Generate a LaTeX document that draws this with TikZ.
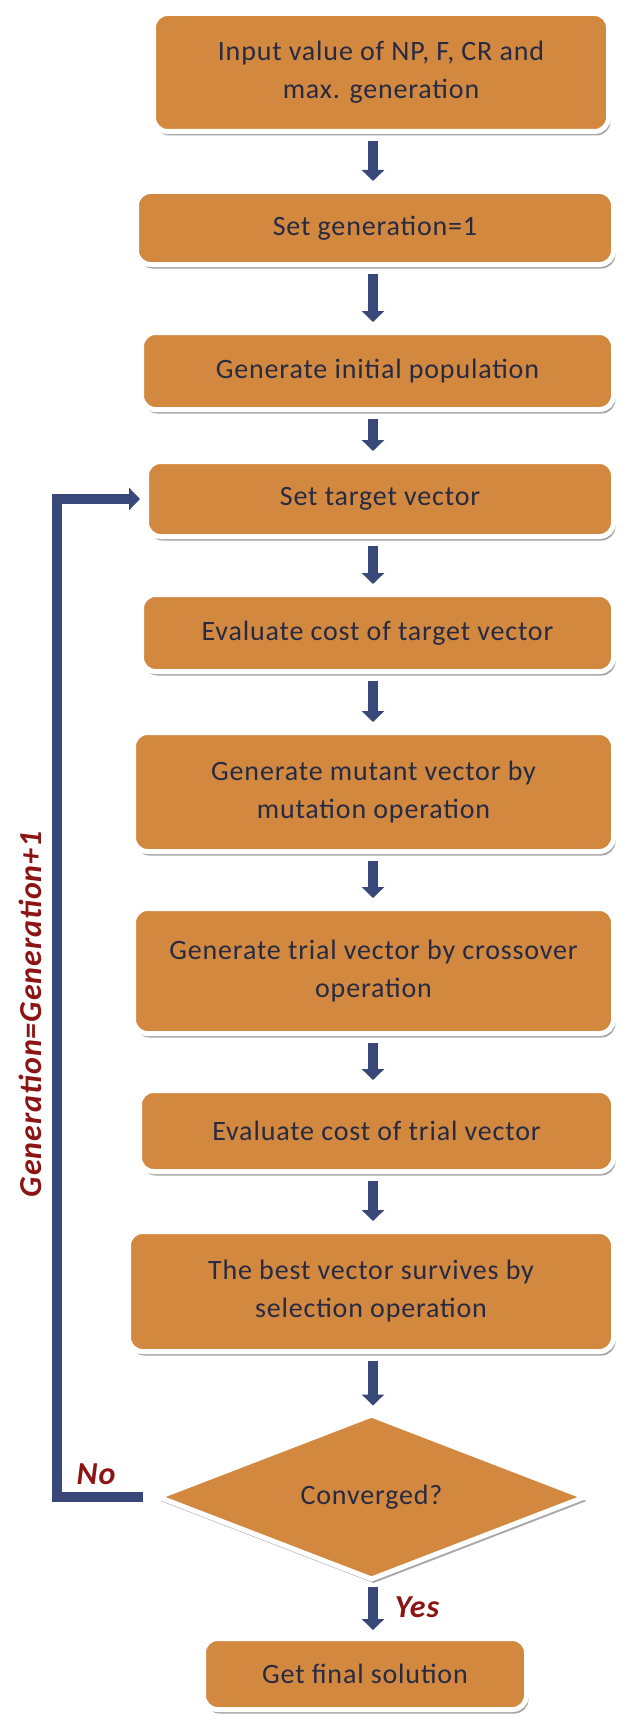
\documentclass[tikz,border=0pt]{standalone}
\usepackage{fontspec}
\setmainfont{Carlito}[LetterSpace=3]
\usetikzlibrary{arrows.meta,shapes.geometric,shadows,calc}
\definecolor{boxor}{RGB}{211,136,64}
\definecolor{navy}{RGB}{56,72,120}
\definecolor{txtc}{RGB}{38,42,66}
\definecolor{labc}{RGB}{140,20,20}
\begin{document}
\begin{tikzpicture}[x=1pt,y=-1pt,
  stepbox/.style={rectangle, rounded corners=14pt, fill=boxor, draw=white, line width=5pt,
    text=txtc, align=center, font=\fontsize{28}{38}\selectfont, inner sep=0pt,
    drop shadow={shadow xshift=2pt, shadow yshift=-4pt, opacity=0.35, fill=black}},
  decbox/.style={diamond, fill=boxor, draw=white, line width=5pt, text=txtc,
    font=\fontsize{28}{38}\selectfont, inner sep=0pt,
    drop shadow={shadow xshift=2pt, shadow yshift=-4pt, opacity=0.35, fill=black}},
  arr/.style={draw=navy, line width=10pt, -{Triangle[width=22pt,length=11pt]}},
  labtxt/.style={text=labc, font=\fontsize{32}{32}\selectfont\bfseries\itshape}]
\useasboundingbox (0,0) rectangle (630,1731);
\coordinate (ax) at (373,0);
\coordinate (fb) at (57,1000);

\node[stepbox, minimum width=455pt, minimum height=118pt] (b1) at (381,72.5) {Input value of NP, F, CR and\\max. generation};
\node[stepbox, minimum width=477pt, minimum height=73pt] (b2) at (375,228) {Set generation=1};
\node[stepbox, minimum width=472pt, minimum height=77pt] (b3) at (377.5,371) {Generate initial population};
\node[stepbox, minimum width=467pt, minimum height=75pt] (b4) at (380,499) {Set target vector};
\node[stepbox, minimum width=472pt, minimum height=77pt] (b5) at (377.5,633) {Evaluate cost of target vector};
\node[stepbox, minimum width=480pt, minimum height=119pt] (b6) at (373.5,792) {Generate mutant vector by\\mutation operation};
\node[stepbox, minimum width=480pt, minimum height=125pt] (b7) at (373.5,971) {Generate trial vector by crossover\\operation};
\node[stepbox, minimum width=474pt, minimum height=81pt] (b8) at (376.5,1131) {Evaluate cost of trial vector};
\node[stepbox, minimum width=485pt, minimum height=120pt] (b9) at (371,1291.5) {The best vector survives by\\selection operation};
\node[decbox, minimum width=428pt, minimum height=150pt] (dm) at (371.5,1497) {Converged?};
\node[stepbox, minimum width=323pt, minimum height=71pt] (b10) at (365,1674) {Get final solution};

\draw[arr, shorten <=7pt, shorten >=8pt] (b1.south -| ax) -- (b2.north -| ax);
\draw[arr, shorten <=7pt, shorten >=8pt] (b2.south -| ax) -- (b3.north -| ax);
\draw[arr, shorten <=7pt, shorten >=8pt] (b3.south -| ax) -- (b4.north -| ax);
\draw[arr, shorten <=7pt, shorten >=8pt] (b4.south -| ax) -- (b5.north -| ax);
\draw[arr, shorten <=7pt, shorten >=8pt] (b5.south -| ax) -- (b6.north -| ax);
\draw[arr, shorten <=7pt, shorten >=8pt] (b6.south -| ax) -- (b7.north -| ax);
\draw[arr, shorten <=7pt, shorten >=8pt] (b7.south -| ax) -- (b8.north -| ax);
\draw[arr, shorten <=7pt, shorten >=8pt] (b8.south -| ax) -- (b9.north -| ax);
\draw[arr, shorten <=7pt, shorten >=6pt] (b9.south -| ax) -- (dm.north -| ax);
\draw[arr, shorten <=4pt, shorten >=6pt] (dm.south -| ax) -- (b10.north -| ax);
\draw[arr, line join=miter, shorten <=12pt, shorten >=4pt] (dm.west) -| (fb) |- (b4.west);

\node[labtxt, rotate=90] (gl) at (30,1014) {Generation=Generation+1};
\node[labtxt] (no) at (96,1474) {No};
\node[labtxt] (yes) at (417,1607) {Yes};
\end{tikzpicture}
\end{document}
